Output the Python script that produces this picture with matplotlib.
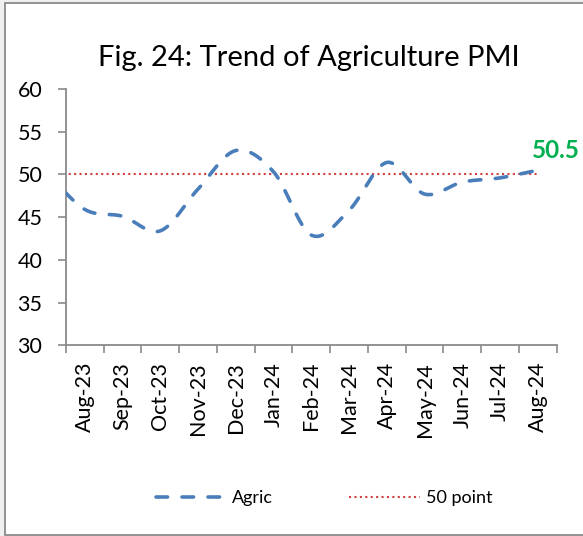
import numpy as np
import matplotlib
matplotlib.use("Agg")
import matplotlib.pyplot as plt
from matplotlib.patches import Rectangle
from matplotlib.lines import Line2D

plt.rcParams['font.family'] = ['Lato', 'DejaVu Sans']

# ---- data ----
months = ["Aug-23", "Sep-23", "Oct-23", "Nov-23", "Dec-23", "Jan-24", "Feb-24",
          "Mar-24", "Apr-24", "May-24", "Jun-24", "Jul-24", "Aug-24"]
prev_month_value = 50.2   # Jul-23 (clipped at the left edge in the original)
agric = [45.9, 45.1, 43.4, 48.3, 52.8, 50.3, 42.9, 45.8, 51.4, 47.7, 49.1, 49.6, 50.5]
threshold = 50
last_label = "50.5"
title = "Fig. 24: Trend of Agriculture PMI"
yticks = [30, 35, 40, 45, 50, 55, 60]

W, H = 583, 536
fig = plt.figure(figsize=(W / 100, H / 100), dpi=100)
fig.patch.set_facecolor('#f0f0f0')
fig.patches.append(Rectangle((5 / W, 1 - 535 / H), (W + 40) / W, (535 - 3) / H,
                             transform=fig.transFigure, facecolor='white',
                             edgecolor='#8a8a8a', linewidth=1.3, zorder=-1))

ax = fig.add_axes([66 / W, 1 - 345.3 / H, (556.7 - 66) / W, (345.3 - 89) / H])
ax.set_facecolor('none')


def smooth(xs, ys, n=40):
    """Excel-like smoothed line (Catmull-Rom Bezier)."""
    xs = np.asarray(xs, float)
    ys = np.asarray(ys, float)
    px = np.concatenate([[xs[0]], xs, [xs[-1]]])
    py = np.concatenate([[ys[0]], ys, [ys[-1]]])
    ox, oy = [], []
    t = np.linspace(0, 1, n)
    for i in range(1, len(px) - 2):
        p0 = np.array([px[i], py[i]])
        p3 = np.array([px[i + 1], py[i + 1]])
        c1 = p0 + (np.array([px[i + 1], py[i + 1]]) - np.array([px[i - 1], py[i - 1]])) / 6
        c2 = p3 - (np.array([px[i + 2], py[i + 2]]) - np.array([px[i], py[i]])) / 6
        b = ((1 - t)[:, None] ** 3 * p0 + 3 * ((1 - t) ** 2 * t)[:, None] * c1
             + 3 * ((1 - t) * t ** 2)[:, None] * c2 + (t ** 3)[:, None] * p3)
        ox.extend(b[:, 0]); oy.extend(b[:, 1])
    return np.array(ox), np.array(oy)


xpos = np.arange(-1, len(months))
yvals = [prev_month_value] + agric
sx, sy = smooth(xpos, yvals)

blue = '#4A7EBB'
red = '#D3403C'
ax.plot(xpos, [threshold] * len(xpos), color=red, lw=1.5, linestyle=(0, (1, 1.6)),
        zorder=2)
ax.plot(sx, sy, color=blue, lw=2.6, linestyle=(0, (3.2, 4.0)),
        dash_capstyle='round', zorder=3)

ax.annotate(last_label, xy=(len(months) - 1, agric[-1]), xytext=(-4, 6),
            textcoords='offset points', ha='left', va='bottom',
            color='#00B050', fontsize=17.5, fontweight='bold', annotation_clip=False)

ax.set_xlim(-0.5, len(months) - 0.5)
ax.set_ylim(30, 60)
ax.set_yticks(yticks)
ax.set_xticks(np.arange(-0.5, len(months), 1))
ax.set_xticklabels([])
ax.set_xticks(np.arange(len(months)), minor=True)
ax.set_xticklabels(months, minor=True, rotation=90, fontsize=15.5, va='top')
ax.tick_params(axis='x', which='minor', length=0, pad=12)
ax.tick_params(axis='x', which='major', length=6, width=1.2, color='#8a8a8a')
ax.tick_params(axis='y', length=6, width=1.2, color='#8a8a8a', labelsize=15.5, pad=11)

for s in ['top', 'right']:
    ax.spines[s].set_visible(False)
for s in ['left', 'bottom']:
    ax.spines[s].set_color('#8a8a8a')
    ax.spines[s].set_linewidth(1.3)

fig.text(309 / W, 1 - 58 / H, title, ha='center', va='center', fontsize=21)

handles = [Line2D([], [], color=blue, lw=2.6, linestyle=(0, (3.2, 4.0)),
                  dash_capstyle='round'),
           Line2D([], [], color=red, lw=1.5, linestyle=(0, (1, 1.6)))]
fig.legend(handles, ['Agric', '50 point'], loc='center', bbox_to_anchor=(324 / W, 1 - 498 / H),
           ncol=2, frameon=False, fontsize=13, handlelength=3.9, handletextpad=0.35,
           columnspacing=4.2)

fig.savefig('out.png', dpi=100, facecolor=fig.get_facecolor())
